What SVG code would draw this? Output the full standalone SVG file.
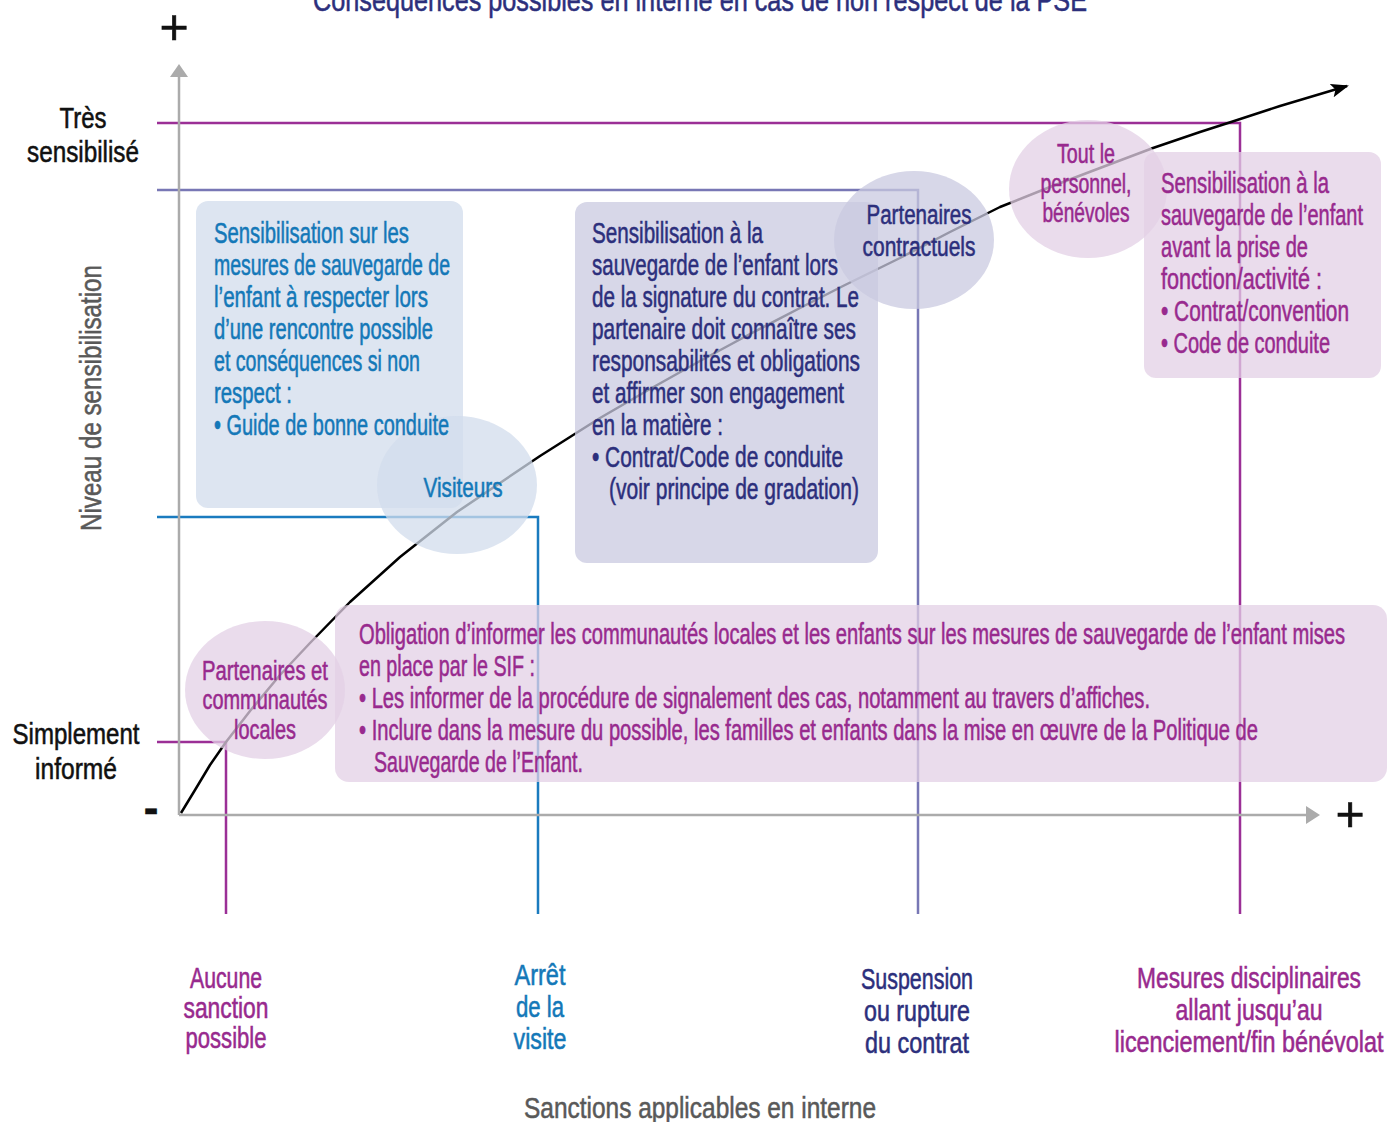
<svg xmlns="http://www.w3.org/2000/svg" width="1388" height="1122" viewBox="0 0 1388 1122">
<defs>
<style>
text{font-family:"Liberation Sans Narrow","Liberation Sans",Arial,sans-serif;font-size:29px;stroke-width:0.55px}
.c{text-anchor:middle}
.mag{fill:#982a8e;stroke:#982a8e}
.nav{fill:#2c2f7c;stroke:#2c2f7c}
.blu{fill:#1478b8;stroke:#1478b8}
.blk{fill:#111111;stroke:#111111}
.gry{fill:#595959;stroke:#595959}
.ci{font-size:27px}
.fblue{fill:#d2dcec;fill-opacity:.75}
.flav{fill:#cacae0;fill-opacity:.75}
.fpink{fill:#e3d0e6;fill-opacity:.75}
.ln{fill:none;stroke-width:2.5}
</style>
<marker id="ah" markerUnits="userSpaceOnUse" viewBox="0 0 18 14" markerWidth="18" markerHeight="14" refX="16" refY="7" orient="auto">
<path d="M0,0 L18,7 L0,14 L4,7 z" fill="#000"/>
</marker>
</defs>
<rect width="1388" height="1122" fill="#fff"/>

<text id="title" x="700" y="11" class="c nav" style="font-size:32px" textLength="774" lengthAdjust="spacingAndGlyphs">Conséquences possibles en interne en cas de non respect de la PSE</text>

<g id="connectors">
<polyline class="ln" stroke="#9b2f96" points="157,123 1240,123 1240,914"/>
<polyline class="ln" stroke="#7877b5" points="157,190 918,190 918,914"/>
<polyline class="ln" stroke="#1a7bbf" points="157,517 538,517 538,914"/>
<polyline class="ln" stroke="#9b2f96" points="157,742 226,742 226,914"/>
</g>

<g id="axes">
<line x1="179" y1="815" x2="179" y2="74" stroke="#ababab" stroke-width="2.5"/>
<polygon points="170,77 179,64 188,77" fill="#ababab"/>
<line x1="179" y1="815" x2="1308" y2="815" stroke="#ababab" stroke-width="2.5"/>
<polygon points="1306,806 1320,815 1306,824" fill="#ababab"/>
<text x="174" y="44" class="c blk" style="font-size:50px">+</text>
<text x="1350" y="831" class="c blk" style="font-size:50px">+</text>
<text x="151" y="823" class="c blk" style="font-size:44px;font-weight:bold">-</text>
</g>

<g id="curve">
<polyline fill="none" stroke="#000" stroke-width="2.5" stroke-linejoin="round" marker-end="url(#ah)" points="181,813 195,790 210,765 226,742 250,711 280,675 310,643 350,602 400,557 457,512 500,483 540,456 600,418 650,389 700,361 750,334 800,308 843,286 900,258 950,232 1000,207 1050,187 1100,168 1153,148 1200,132 1228,123 1280,106 1347,86"/>
</g>

<g id="axis-labels">
<text x="83" y="128" class="c blk" textLength="47" lengthAdjust="spacingAndGlyphs">Très</text>
<text x="83" y="162" class="c blk" textLength="112" lengthAdjust="spacingAndGlyphs">sensibilisé</text>
<text x="76" y="744" class="c blk" textLength="127" lengthAdjust="spacingAndGlyphs">Simplement</text>
<text x="76" y="779" class="c blk" textLength="82" lengthAdjust="spacingAndGlyphs">informé</text>
<text transform="translate(101,398) rotate(-90)" class="c gry" textLength="266" lengthAdjust="spacingAndGlyphs">Niveau de sensibilisation</text>
<text x="700" y="1118" class="c gry" style="font-size:30px" textLength="352" lengthAdjust="spacingAndGlyphs">Sanctions applicables en interne</text>
</g>

<g id="node-shapes">
<rect id="shape-box-visiteurs" x="196" y="201" width="267" height="307" rx="12" class="fblue"/>
<ellipse id="shape-circle-visiteurs" cx="457" cy="485" rx="80" ry="69" class="fblue"/>
<rect id="shape-box-contractuels" x="575" y="202" width="303" height="361" rx="12" class="flav"/>
<ellipse id="shape-circle-contractuels" cx="914" cy="240" rx="80" ry="69" class="flav"/>
<rect id="shape-box-personnel" x="1144" y="152" width="237" height="226" rx="12" class="fpink"/>
<ellipse id="shape-circle-personnel" cx="1088" cy="189" rx="79" ry="69" class="fpink"/>
<rect id="shape-box-communautes" x="335" y="605" width="1052" height="177" rx="14" class="fpink"/>
<ellipse id="shape-circle-communautes" cx="265" cy="690" rx="80" ry="69" class="fpink"/>
</g>

<g id="box-visiteurs">
<text class="blu" x="214" y="243" textLength="195" lengthAdjust="spacingAndGlyphs">Sensibilisation sur les</text>
<text class="blu" x="214" y="275" textLength="236" lengthAdjust="spacingAndGlyphs">mesures de sauvegarde de</text>
<text class="blu" x="214" y="307" textLength="214" lengthAdjust="spacingAndGlyphs">l’enfant à respecter lors</text>
<text class="blu" x="214" y="339" textLength="219" lengthAdjust="spacingAndGlyphs">d’une rencontre possible</text>
<text class="blu" x="214" y="371" textLength="206" lengthAdjust="spacingAndGlyphs">et conséquences si non</text>
<text class="blu" x="214" y="403" textLength="78" lengthAdjust="spacingAndGlyphs">respect :</text>
<text class="blu" x="214" y="435" textLength="235" lengthAdjust="spacingAndGlyphs">• Guide de bonne conduite</text>
</g>

<g id="circle-visiteurs">
<text class="c blu ci" x="463" y="497" textLength="79" lengthAdjust="spacingAndGlyphs">Visiteurs</text>
</g>

<g id="box-partenaires-contractuels">
<text class="nav" x="592" y="243" textLength="171" lengthAdjust="spacingAndGlyphs">Sensibilisation à la</text>
<text class="nav" x="592" y="275" textLength="246" lengthAdjust="spacingAndGlyphs">sauvegarde de l’enfant lors</text>
<text class="nav" x="592" y="307" textLength="267" lengthAdjust="spacingAndGlyphs">de la signature du contrat. Le</text>
<text class="nav" x="592" y="339" textLength="264" lengthAdjust="spacingAndGlyphs">partenaire doit connaître ses</text>
<text class="nav" x="592" y="371" textLength="268" lengthAdjust="spacingAndGlyphs">responsabilités et obligations</text>
<text class="nav" x="592" y="403" textLength="252" lengthAdjust="spacingAndGlyphs">et affirmer son engagement</text>
<text class="nav" x="592" y="435" textLength="131" lengthAdjust="spacingAndGlyphs">en la matière :</text>
<text class="nav" x="592" y="467" textLength="251" lengthAdjust="spacingAndGlyphs">• Contrat/Code de conduite</text>
<text class="nav" x="609" y="499" textLength="250" lengthAdjust="spacingAndGlyphs">(voir principe de gradation)</text>
</g>

<g id="circle-partenaires-contractuels">
<text class="c nav ci" x="919" y="224" textLength="105" lengthAdjust="spacingAndGlyphs">Partenaires</text>
<text class="c nav ci" x="919" y="256" textLength="113" lengthAdjust="spacingAndGlyphs">contractuels</text>
</g>

<g id="box-personnel">
<text class="mag" x="1161" y="193" textLength="168" lengthAdjust="spacingAndGlyphs">Sensibilisation à la</text>
<text class="mag" x="1161" y="225" textLength="202" lengthAdjust="spacingAndGlyphs">sauvegarde de l’enfant</text>
<text class="mag" x="1161" y="257" textLength="147" lengthAdjust="spacingAndGlyphs">avant la prise de</text>
<text class="mag" x="1161" y="289" textLength="161" lengthAdjust="spacingAndGlyphs">fonction/activité :</text>
<text class="mag" x="1161" y="321" textLength="188" lengthAdjust="spacingAndGlyphs">• Contrat/convention</text>
<text class="mag" x="1161" y="353" textLength="169" lengthAdjust="spacingAndGlyphs">• Code de conduite</text>
</g>

<g id="circle-personnel">
<text class="c mag ci" x="1086" y="163" textLength="58" lengthAdjust="spacingAndGlyphs">Tout le</text>
<text class="c mag ci" x="1086" y="193" textLength="91" lengthAdjust="spacingAndGlyphs">personnel,</text>
<text class="c mag ci" x="1086" y="222" textLength="87" lengthAdjust="spacingAndGlyphs">bénévoles</text>
</g>

<g id="box-communautes">
<text class="mag" x="359" y="644" textLength="986" lengthAdjust="spacingAndGlyphs">Obligation d’informer les communautés locales et les enfants sur les mesures de sauvegarde de l’enfant mises</text>
<text class="mag" x="359" y="676" textLength="176" lengthAdjust="spacingAndGlyphs">en place par le SIF :</text>
<text class="mag" x="359" y="708" textLength="791" lengthAdjust="spacingAndGlyphs">• Les informer de la procédure de signalement des cas, notamment au travers d’affiches.</text>
<text class="mag" x="359" y="740" textLength="899" lengthAdjust="spacingAndGlyphs">• Inclure dans la mesure du possible, les familles et enfants dans la mise en œuvre de la Politique de</text>
<text class="mag" x="374" y="772" textLength="209" lengthAdjust="spacingAndGlyphs">Sauvegarde de l’Enfant.</text>
</g>

<g id="circle-communautes">
<text class="c mag ci" x="265" y="680" textLength="126" lengthAdjust="spacingAndGlyphs">Partenaires et</text>
<text class="c mag ci" x="265" y="709" textLength="125" lengthAdjust="spacingAndGlyphs">communautés</text>
<text class="c mag ci" x="265" y="739" textLength="62" lengthAdjust="spacingAndGlyphs">locales</text>
</g>

<g id="sanction-aucune">
<text class="c mag" x="226" y="988" textLength="72" lengthAdjust="spacingAndGlyphs">Aucune</text>
<text class="c mag" x="226" y="1018" textLength="85" lengthAdjust="spacingAndGlyphs">sanction</text>
<text class="c mag" x="226" y="1048" textLength="81" lengthAdjust="spacingAndGlyphs">possible</text>
</g>

<g id="sanction-arret">
<text class="c blu" x="540" y="985" textLength="51" lengthAdjust="spacingAndGlyphs">Arrêt</text>
<text class="c blu" x="540" y="1017" textLength="48" lengthAdjust="spacingAndGlyphs">de la</text>
<text class="c blu" x="540" y="1049" textLength="53" lengthAdjust="spacingAndGlyphs">visite</text>
</g>

<g id="sanction-suspension">
<text class="c nav" x="917" y="989" textLength="112" lengthAdjust="spacingAndGlyphs">Suspension</text>
<text class="c nav" x="917" y="1021" textLength="106" lengthAdjust="spacingAndGlyphs">ou rupture</text>
<text class="c nav" x="917" y="1053" textLength="104" lengthAdjust="spacingAndGlyphs">du contrat</text>
</g>

<g id="sanction-disciplinaires">
<text class="c mag" x="1249" y="988" textLength="224" lengthAdjust="spacingAndGlyphs">Mesures disciplinaires</text>
<text class="c mag" x="1249" y="1020" textLength="147" lengthAdjust="spacingAndGlyphs">allant jusqu’au</text>
<text class="c mag" x="1249" y="1052" textLength="269" lengthAdjust="spacingAndGlyphs">licenciement/fin bénévolat</text>
</g>
</svg>
